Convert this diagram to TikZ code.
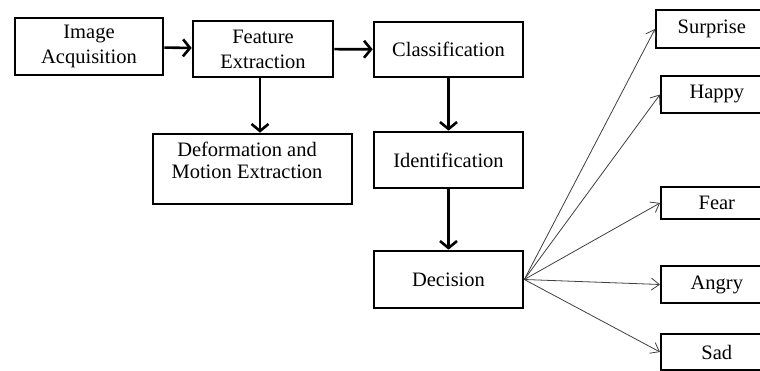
\documentclass[tikz,border=0pt]{standalone}
\usepackage{fontspec}
\setmainfont{Liberation Serif}
\usetikzlibrary{arrows.meta}

\begin{document}
\begin{tikzpicture}[x=1pt, y=-1pt,
    stage/.style={draw, line width=2.6pt, font=\fontsize{20.5}{25}\selectfont, align=center, inner sep=0pt},
    emotion/.style={draw, line width=1.7pt, font=\fontsize{20.5}{25}\selectfont, inner sep=0pt, minimum width=112},
    flow/.style={line width=2.6pt, -{Straight Barb[length=7pt, width=17pt]}},
    fan/.style={line width=0.8pt, draw=black!75, -{Straight Barb[length=8pt, width=12pt]}}]
                \fill [white] (0, 0) rectangle (760, 371);
                \clip (0, 0) rectangle (760, 371);
                \useasboundingbox (0, 0) rectangle (760, 371);
                % processing chain
                \node [stage, minimum width=148, minimum height=57] (acq) at (89, 46.5) {Image\\Acquisition};
                \node [stage, minimum width=140, minimum height=56] (feat) at (263, 49) {Feature\\Extraction};
                \node [stage, minimum width=149, minimum height=55] (cls) at (448.5, 49.5) {Classification};
                \node [stage, minimum width=149, minimum height=56] (ident) at (448.5, 160) {Identification};
                \node [stage, minimum width=149, minimum height=57] (dec) at (448.5, 279.5) {Decision};
                \node [stage, minimum width=199, minimum height=70] (deform) at (252.5, 169) {};
                \node [anchor=north, align=center, inner sep=0pt, font=\fontsize{20.5}{22}\selectfont] (deformtext) at (247, 141.5) {Deformation and\\Motion Extraction};
                \draw [flow] (acq) -- (feat);
                \draw [flow] (feat) -- (cls);
                \draw [flow] (feat.south) ++(-3, 0) coordinate (featdown) -- (featdown |- deform.north);
                \draw [flow] (cls) -- (ident);
                \draw [flow] (ident) -- (dec);
                % emotions
                \node [emotion, anchor=west, minimum height=38] (surprise) at (655, 29) {Surprise};
                \node [emotion, anchor=west, minimum height=37] (happy) at (660, 94.5) {Happy};
                \node [emotion, anchor=west, minimum height=32] (fear) at (660, 203) {Fear};
                \node [emotion, anchor=west, minimum height=37] (angry) at (660, 284.5) {Angry};
                \node [emotion, anchor=west, minimum height=36] (sad) at (660, 352) {Sad};
                \foreach \e in {surprise, happy, fear, angry, sad}
                    \draw [fan] (dec.east) -- (\e.west);
            \end{tikzpicture}
\end{document}
